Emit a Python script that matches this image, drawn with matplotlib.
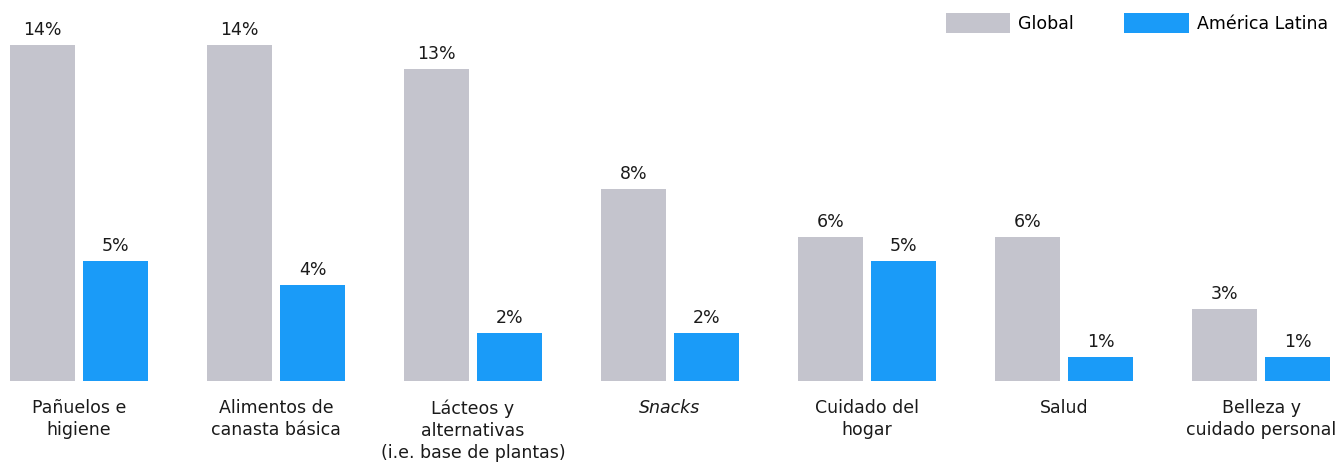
import numpy as np
import matplotlib
matplotlib.use("Agg")
import matplotlib.pyplot as plt

# categorías y valores (%)
categorias = [
    "Pañuelos e\nhigiene",
    "Alimentos de\ncanasta básica",
    "Lácteos y\nalternativas\n(i.e. base de plantas)",
    "Snacks",
    "Cuidado del\nhogar",
    "Salud",
    "Belleza y\ncuidado personal",
]
valores_global = [14, 14, 13, 8, 6, 6, 3]
valores_latam = [5, 4, 2, 2, 5, 1, 1]
series = ["Global", "América Latina"]

color_global = "#C4C4CD"
color_latam = "#1A9BF8"

plt.rcParams["font.family"] = ["DejaVu Sans"]
fs = 12.5

W, H = 1344, 462
fig = plt.figure(figsize=(W / 100, H / 100), dpi=100)
base = 381  # baseline in pixels from top
ax = fig.add_axes([0, (H - base) / H, 1, base / H])

x = np.arange(len(categorias))
ancho = 0.33
desp = 0.185

b1 = ax.bar(x - desp, valores_global, ancho, color=color_global, label=series[0])
b2 = ax.bar(x + desp, valores_latam, ancho, color=color_latam, label=series[1])

for barras, vals in ((b1, valores_global), (b2, valores_latam)):
    for r, v in zip(barras, vals):
        ax.annotate(f"{v}%", (r.get_x() + r.get_width() / 2, v),
                    xytext=(0, 4), textcoords="offset points",
                    ha="center", va="bottom", fontsize=fs, color="#1a1a1a")

ax.set_xlim(-79 / 197, (W - 79) / 197)
ax.set_ylim(0, base / 24)
ax.axis("off")

# etiquetas de categoría debajo de las barras
for xi, cat in zip(x, categorias):
    estilo = "italic" if cat == "Snacks" else "normal"
    ax.annotate(cat, (xi, 0), xytext=(0, -13), textcoords="offset points",
                ha="center", va="top", fontsize=fs, style=estilo,
                linespacing=1.3, color="#1a1a1a", annotation_clip=False)

fig.legend(handles=[b1, b2], labels=series, loc="upper right",
           bbox_to_anchor=(1328 / W, 1 - 13 / H), ncol=2, frameon=False,
           fontsize=fs, borderpad=0, borderaxespad=0,
           handlelength=65 / 17.4, handleheight=1.4,
           handletextpad=8 / 17.4, columnspacing=50 / 17.4)

fig.savefig("out.png", dpi=100)
